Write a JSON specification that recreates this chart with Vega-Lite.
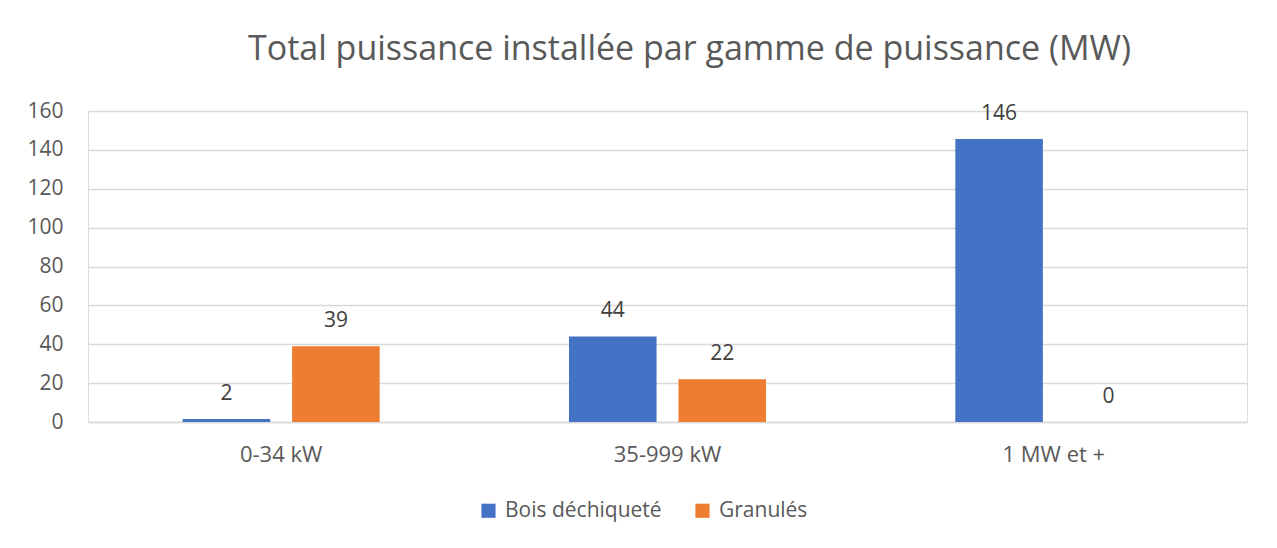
{
  "$schema": "https://vega.github.io/schema/vega-lite/v6.json",
  "autosize": "none",
  "width": 1159,
  "height": 311,
  "padding": {"left": 88, "top": 111, "right": 30, "bottom": 126},
  "background": "white",
  "title": {
    "text": "Total puissance installée par gamme de puissance (MW)",
    "font": "Open Sans",
    "fontSize": 34,
    "fontWeight": "normal",
    "color": "#595959",
    "anchor": "middle",
    "dx": 22,
    "dy": 47,
    "offset": 46,
    "baseline": "bottom"
  },
  "data": {
    "values": [
      {"gamme": "0-34 kW", "type": "Bois déchiqueté", "mw": 1.5},
      {"gamme": "0-34 kW", "type": "Granulés", "mw": 39},
      {"gamme": "35-999 kW", "type": "Bois déchiqueté", "mw": 44},
      {"gamme": "35-999 kW", "type": "Granulés", "mw": 22},
      {"gamme": "1 MW et +", "type": "Bois déchiqueté", "mw": 145.6},
      {"gamme": "1 MW et +", "type": "Granulés", "mw": 0}
    ]
  },
  "encoding": {
    "x": {
      "field": "gamme",
      "type": "nominal",
      "sort": ["0-34 kW", "35-999 kW", "1 MW et +"],
      "scale": {"paddingInner": 0.49, "paddingOuter": 0.245},
      "axis": {
        "title": null,
        "labelAngle": 0,
        "labelFont": "Open Sans",
        "labelFontSize": 22,
        "labelColor": "#595959",
        "labelPadding": 22,
        "ticks": false,
        "domainColor": "#d9d9d9",
        "domainWidth": 1.5
      }
    },
    "xOffset": {
      "field": "type",
      "type": "nominal",
      "sort": ["Bois déchiqueté", "Granulés"],
      "scale": {"paddingInner": 0.2, "paddingOuter": 0}
    },
    "y": {
      "field": "mw",
      "type": "quantitative",
      "scale": {"domain": [0, 160]},
      "axis": {
        "title": null,
        "values": [0, 20, 40, 60, 80, 100, 120, 140, 160],
        "labelFont": "Open Sans",
        "labelFontSize": 21,
        "labelColor": "#595959",
        "labelPadding": 25,
        "ticks": false,
        "domain": false,
        "gridColor": "#d9d9d9",
        "gridWidth": 1.5
      }
    }
  },
  "layer": [
    {
      "mark": {"type": "bar"},
      "encoding": {
        "color": {
          "field": "type",
          "type": "nominal",
          "sort": ["Bois déchiqueté", "Granulés"],
          "scale": {"domain": ["Bois déchiqueté", "Granulés"], "range": ["#4472C4", "#ED7D31"]},
          "legend": {
            "title": null,
            "orient": "none",
            "legendX": 390,
            "legendY": 389,
            "direction": "horizontal",
            "symbolType": "square",
            "symbolSize": 200,
            "symbolStrokeWidth": 0,
            "labelFont": "Open Sans",
            "labelFontSize": 21,
            "labelColor": "#595959",
            "labelOffset": 6,
            "columnPadding": 30
          }
        }
      }
    },
    {
      "mark": {"type": "text", "baseline": "bottom", "dy": -15, "font": "Open Sans", "fontSize": 21, "color": "#404040"},
      "encoding": {
        "text": {"field": "mw", "type": "quantitative", "format": ".0f"}
      }
    }
  ]
}
